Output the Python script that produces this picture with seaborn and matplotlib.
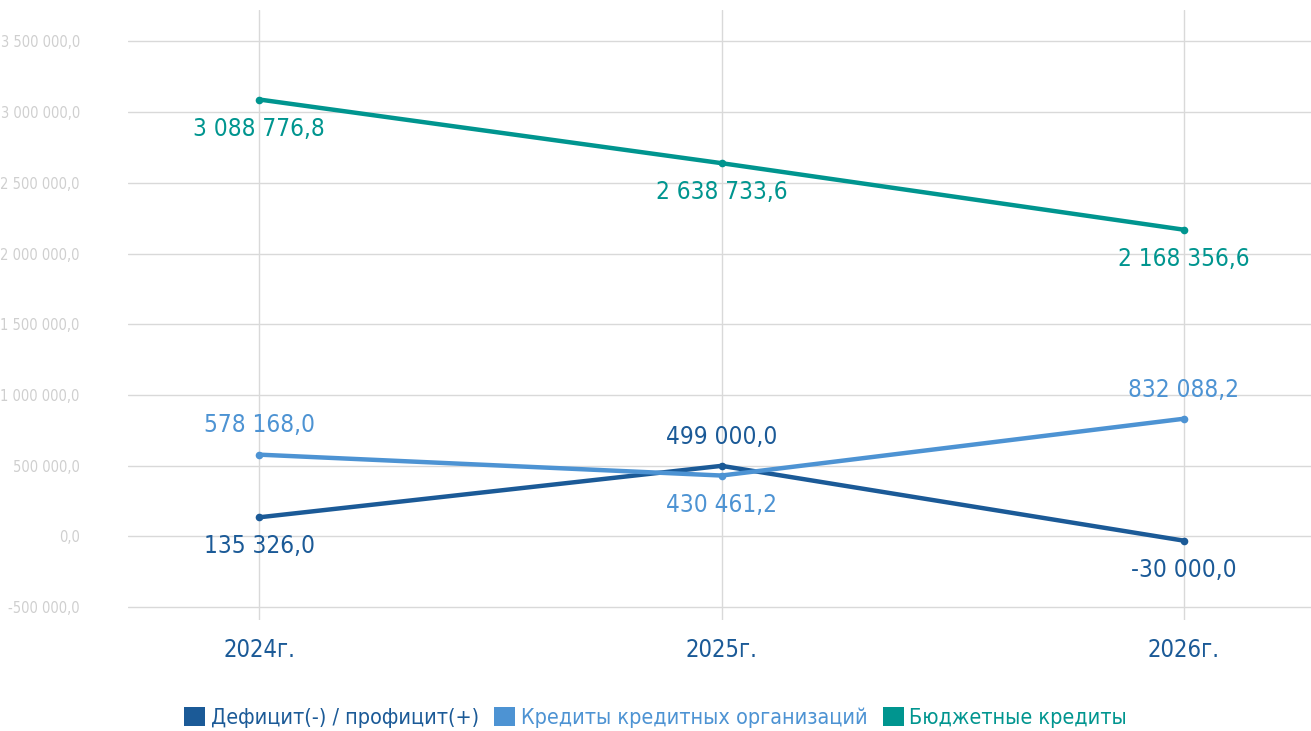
"""
Budget balance and borrowing, 2024-2026: three line series with value labels.
"""

import numpy as np
import pandas as pd
import matplotlib.pyplot as plt
import seaborn as sns
from matplotlib.patches import Patch

# ---------------------------------------------------------------------------
# Data
# ---------------------------------------------------------------------------
years = ["2024г.", "2025г.", "2026г."]
series_names = ["Дефицит(-) / профицит(+)",
                "Кредиты кредитных организаций",
                "Бюджетные кредиты"]
deficit = [135326.0, 499000.0, -30000.0]
bank_credits = [578168.0, 430461.2, 832088.2]
budget_credits = [3088776.8, 2638733.6, 2168356.6]

colors = ["#1b5a97", "#4d93d3", "#00958f"]
# label above (+1) or below (-1) each point
label_side = {
    series_names[0]: [-1, 1, -1],
    series_names[1]: [1, -1, 1],
    series_names[2]: [-1, -1, -1],
}

df = pd.DataFrame({
    "year": years * 3,
    "series": np.repeat(series_names, 3),
    "value": deficit + bank_credits + budget_credits,
})


def fmt(v):
    s = f"{abs(v):,.1f}".replace(",", " ").replace(".", ",")
    return ("-" if v < 0 else "") + s


# ---------------------------------------------------------------------------
# Plot
# ---------------------------------------------------------------------------
sns.set_style("white")
# condensed face to get close to the narrow font of the original
plt.rcParams["font.family"] = ["DejaVu Sans"]
plt.rcParams["font.stretch"] = "condensed"

fig = plt.figure(figsize=(13.11, 7.31), dpi=100)
ax = fig.add_axes([0.098, 0.152, 0.902, 0.834])

sns.lineplot(data=df, x="year", y="value", hue="series",
             hue_order=series_names, palette=colors, sort=False,
             linewidth=3.2, marker="o", markersize=5.5, markeredgewidth=0,
             legend=False, ax=ax)

for name, col in zip(series_names, colors):
    sub = df[df["series"] == name].reset_index(drop=True)
    for i, row in sub.iterrows():
        side = label_side[name][i]
        ax.annotate(fmt(row["value"]), (i, row["value"]),
                    xytext=(0, 21 * side), textcoords="offset points",
                    ha="center", va="center", fontsize=17.5, color=col)

ax.set_xlim(-0.283, 2.275)
ax.set_ylim(-590000, 3720000)
ax.set_yticks(np.arange(-500000, 3500001, 500000))
ax.set_yticklabels([fmt(v) for v in np.arange(-500000, 3500001, 500000)],
                   fontsize=10.5, color="#cfcfcf")
ax.set_xticks(range(3))
ax.set_xticklabels(years, fontsize=17, color="#1b5a97")
ax.tick_params(axis="both", length=0)
ax.tick_params(axis="x", pad=13)
ax.tick_params(axis="y", pad=35)
ax.grid(True, color="#d9d9d9", linewidth=1)
ax.set_axisbelow(True)
ax.set_xlabel("")
ax.set_ylabel("")
for sp in ax.spines.values():
    sp.set_visible(False)

handles = [Patch(facecolor=c, edgecolor="none") for c in colors]
fig.legend(handles, series_names, loc="center", bbox_to_anchor=(0.5, 0.019),
           ncol=3, frameon=False, fontsize=15.5, labelcolor=colors,
           handlelength=1.0, handleheight=1.0, handletextpad=0.25,
           columnspacing=0.7)

fig.savefig("out.png", dpi=100)
